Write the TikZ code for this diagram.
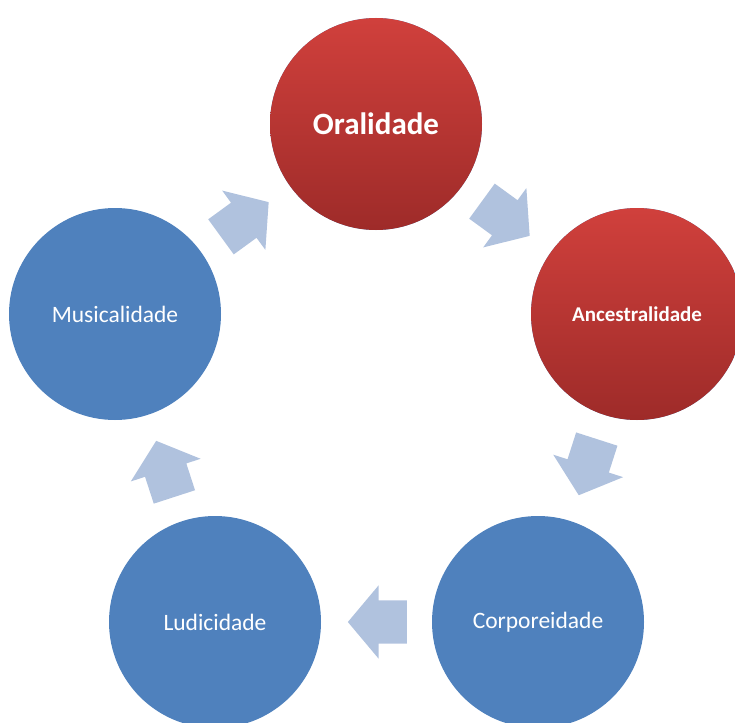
\documentclass[tikz,border=0pt]{standalone}
\usepackage{fontspec}
\setmainfont{Carlito}
\usetikzlibrary{shapes.arrows}
\definecolor{redtop}{RGB}{208,64,60}
\definecolor{redbot}{RGB}{158,43,41}
\definecolor{bluefill}{RGB}{79,129,189}
\definecolor{arrfill}{RGB}{176,194,222}

\begin{document}
\begin{tikzpicture}[x=1pt,y=-1pt,
    bub/.style={circle,minimum size=212pt,inner sep=0pt,text=white,fill=bluefill,font=\fontsize{23.5}{28}\selectfont},
    hot/.style={bub,top color=redtop,bottom color=redbot},
    flow/.style={single arrow,fill=arrfill,inner xsep=0pt,inner ysep=21.5pt,minimum height=59pt,single arrow head extend=15pt,single arrow tip angle=100,pos=0.41,sloped,allow upside down}]
    \useasboundingbox (0,0) rectangle (735,722);
    \clip (0,0) rectangle (735,722);

    \node[hot,font=\bfseries\fontsize{31}{36}\selectfont] (ora) at (376,124) {Oralidade};
    \node[hot,font=\bfseries\fontsize{21}{25}\selectfont] (anc) at (637,314) {Ancestralidade};
    \node[bub] (cor) at (538,622) {Corporeidade};
    \node[bub] (lud) at (215,622) {Ludicidade};
    \node[bub] (mus) at (115,314) {Musicalidade};

    \path (mus) -- node[flow] {} (ora);
    \path (ora) -- node[flow] {} (anc);
    \path (anc) -- node[flow] {} (cor);
    \path (cor) -- node[flow] {} (lud);
    \path (lud) -- node[flow] {} (mus);
  \end{tikzpicture}
\end{document}
